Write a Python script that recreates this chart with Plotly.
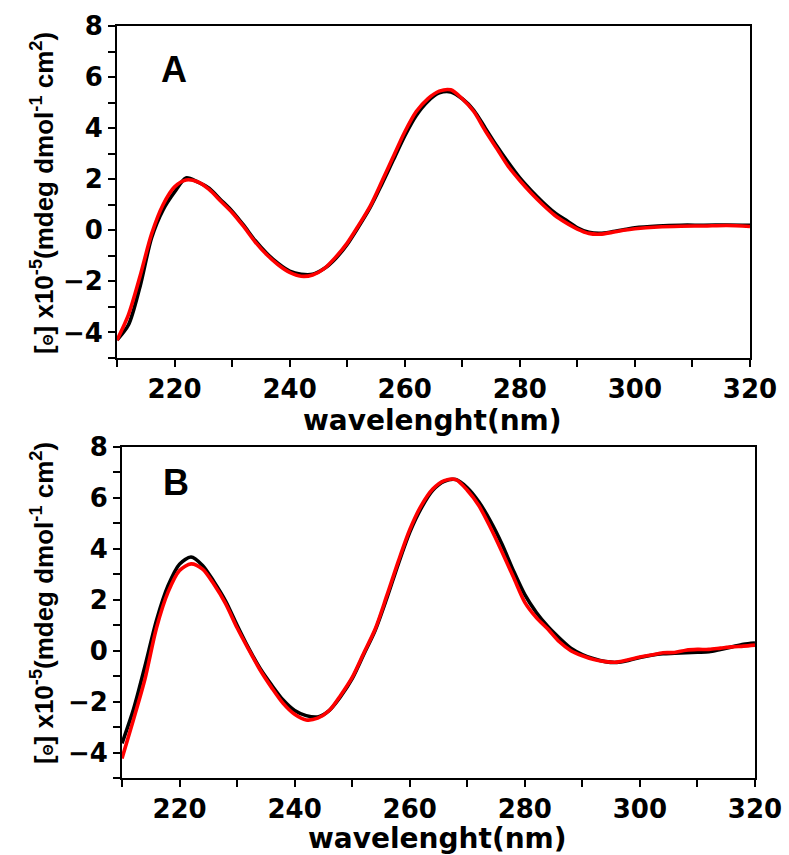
import plotly.graph_objects as go

# ---------------- data ----------------
wl_A = [210, 212, 214, 216, 218, 220, 222, 224, 226, 228, 230, 232, 234, 236, 238, 240,
        242, 244, 246, 248, 250, 252, 254, 256, 258, 260, 262, 264, 266, 268, 270, 272,
        274, 276, 278, 280, 282, 284, 286, 288, 290, 292, 294, 296, 298, 300, 304, 308,
        312, 316, 320]
A_black = [-4.3, -3.7, -2.2, -0.3, 0.8, 1.5, 2.05, 1.9, 1.65, 1.2, 0.75, 0.2, -0.4, -0.9,
           -1.3, -1.6, -1.72, -1.72, -1.5, -1.1, -0.55, 0.15, 0.9, 1.8, 2.75, 3.7, 4.5,
           5.05, 5.38, 5.42, 5.15, 4.7, 4.0, 3.3, 2.65, 2.05, 1.55, 1.1, 0.7, 0.4, 0.1,
           -0.08, -0.12, -0.06, 0.02, 0.1, 0.17, 0.2, 0.2, 0.21, 0.2]
A_red = [-4.3, -3.3, -1.8, -0.15, 1.0, 1.7, 1.97, 1.9, 1.6, 1.15, 0.7, 0.15, -0.45, -0.95,
         -1.35, -1.65, -1.8, -1.75, -1.5, -1.05, -0.5, 0.2, 0.95, 1.9, 2.88, 3.85, 4.65,
         5.15, 5.45, 5.5, 5.15, 4.65, 3.9, 3.2, 2.5, 1.95, 1.45, 1.0, 0.6, 0.3, 0.05,
         -0.12, -0.15, -0.08, 0.0, 0.06, 0.13, 0.16, 0.17, 0.19, 0.15]

wl_B = [210, 212, 214, 216, 218, 220, 222, 224, 226, 228, 230, 232, 234, 236, 238, 240,
        242, 244, 246, 248, 250, 252, 254, 256, 258, 260, 262, 264, 266, 268, 270, 272,
        274, 276, 278, 280, 282, 284, 286, 288, 290, 292, 294, 296, 298, 300, 302, 304,
        306, 308, 310, 312, 314, 316, 318, 320]
B_black = [-3.64, -2.3, -0.6, 1.2, 2.55, 3.4, 3.68, 3.35, 2.7, 1.95, 1.0, 0.1, -0.7,
           -1.35, -1.94, -2.35, -2.55, -2.6, -2.35, -1.8, -1.1, -0.15, 0.8, 2.05, 3.4,
           4.65, 5.6, 6.3, 6.65, 6.72, 6.4, 5.85, 5.1, 4.2, 3.15, 2.2, 1.5, 0.95, 0.5,
           0.1, -0.15, -0.32, -0.43, -0.46, -0.38, -0.27, -0.18, -0.12, -0.1, -0.08,
           -0.06, -0.04, 0.05, 0.15, 0.25, 0.3]
B_red = [-4.23, -2.7, -1.1, 0.9, 2.3, 3.15, 3.41, 3.2, 2.6, 1.85, 0.9, 0.05, -0.76,
         -1.45, -2.07, -2.5, -2.72, -2.65, -2.35, -1.75, -1.05, -0.1, 0.85, 2.15, 3.5,
         4.75, 5.7, 6.35, 6.68, 6.72, 6.3, 5.7, 4.85, 3.9, 2.9, 1.9, 1.3, 0.85, 0.35,
         0.0, -0.2, -0.35, -0.43, -0.45, -0.36, -0.25, -0.17, -0.08, -0.07, 0.02, 0.05,
         0.05, 0.1, 0.15, 0.18, 0.22]

x_range = [210, 320]
y_range = [-5, 8]
panel_labels = ["A", "B"]
x_title = "wavelenght(nm)"
y_title = ("[<span style='font-size:14px'>\u0398</span>] x10<sup>-5</sup>"
           "(mdeg dmol<sup>-1</sup> cm<sup>2</sup>)")

# ---------------- figure ----------------
W, H = 789, 855

fig = go.Figure()
LW = 3.6
for xs, ys, col, xa, ya in [(wl_A, A_black, "black", "x", "y"),
                            (wl_A, A_red, "#ff0000", "x", "y"),
                            (wl_B, B_black, "black", "x2", "y2"),
                            (wl_B, B_red, "#ff0000", "x2", "y2")]:
    fig.add_trace(go.Scatter(x=xs, y=ys, mode="lines",
                             line=dict(color=col, width=LW, shape="spline", smoothing=0.8),
                             xaxis=xa, yaxis=ya, showlegend=False))

def px_x(p):
    return p / W

def px_y(p):
    return 1 - p / H

tickfont = dict(family="DejaVu Sans, Arial, sans-serif", size=26, color="black", weight="bold")

def xaxis(domain, anchor):
    return dict(domain=domain, anchor=anchor, range=x_range, showline=True, mirror=True,
                linecolor="black", linewidth=2, ticks="outside", ticklen=7, tickwidth=2,
                tickcolor="black", tick0=220, dtick=20, showgrid=False, zeroline=False,
                tickfont=tickfont, automargin=False,
                minor=dict(ticks="outside", ticklen=7, tickwidth=2, tickcolor="black",
                           dtick=10, tick0=210, showgrid=False))

def yaxis(domain, anchor):
    return dict(domain=domain, anchor=anchor, range=y_range, showline=True, mirror=True,
                linecolor="black", linewidth=2, ticks="outside", ticklen=7, tickwidth=2,
                tickcolor="black", tick0=0, dtick=2, showgrid=False, zeroline=False,
                tickfont=tickfont, automargin=False,
                minor=dict(ticks="outside", ticklen=7, tickwidth=2, tickcolor="black",
                           dtick=1, showgrid=False))

fig.update_layout(
    width=W, height=H, autosize=False,
    margin=dict(l=0, r=0, t=0, b=0, pad=0, autoexpand=False),
    paper_bgcolor="white", plot_bgcolor="white",
    xaxis=xaxis([px_x(117), px_x(750)], "y"),
    yaxis=yaxis([px_y(358), px_y(26)], "x"),
    xaxis2=xaxis([px_x(122), px_x(755)], "y2"),
    yaxis2=yaxis([px_y(778), px_y(447)], "x2"),
)

annos = []
for lab, cx, cy in [(panel_labels[0], 174, 69), (panel_labels[1], 176, 482)]:
    annos.append(dict(text="<b>%s</b>" % lab, x=px_x(cx), y=px_y(cy), xref="paper", yref="paper",
                      xanchor="center", yanchor="middle", showarrow=False,
                      font=dict(family="Liberation Sans, Arial", size=36, color="black")))
for cx, cy in [(433, 420), (437, 838)]:
    annos.append(dict(text="<b>%s</b>" % x_title, x=px_x(cx), y=px_y(cy), xref="paper", yref="paper",
                      xanchor="center", yanchor="middle", showarrow=False,
                      font=dict(family="DejaVu Sans, Arial", size=28, color="black")))
for cx, cy in [(42, 193), (42, 603)]:
    annos.append(dict(text="<b>%s</b>" % y_title, x=px_x(cx), y=px_y(cy), xref="paper", yref="paper",
                      xanchor="center", yanchor="middle", showarrow=False, textangle=-90,
                      font=dict(family="Liberation Sans, Arial", size=26, color="black")))
fig.update_layout(annotations=annos)

fig.write_html("out.html")
